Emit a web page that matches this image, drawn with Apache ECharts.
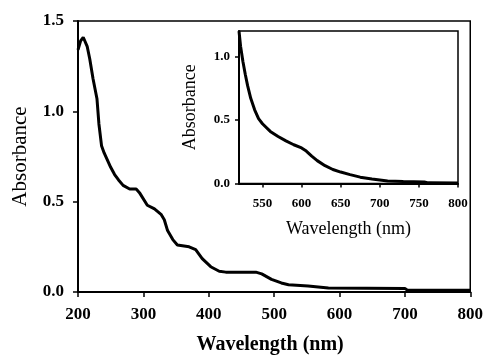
<!DOCTYPE html>
<html>
<head>
<meta charset="utf-8">
<script src="https://cdn.jsdelivr.net/npm/echarts@6/dist/echarts.min.js"></script>
<style>
html,body{margin:0;padding:0;background:#fff;}
#chart{width:486px;height:360px;}
</style>
</head>
<body>
<div id="chart"></div>
<script>
// Main spectrum
var mainWavelength = [200, 204, 208, 214, 218, 223, 229, 232, 236, 240, 245, 250, 256, 262, 269, 279, 289, 294, 306, 317, 327, 332, 337, 345, 352, 370, 380, 390, 403, 416, 426, 472, 481, 496, 511, 522, 552, 583, 700, 704, 800];
var mainAbs = [1.34, 1.39, 1.41, 1.36, 1.29, 1.18, 1.07, 0.93, 0.81, 0.77, 0.73, 0.69, 0.65, 0.62, 0.59, 0.57, 0.57, 0.55, 0.48, 0.46, 0.43, 0.40, 0.34, 0.29, 0.26, 0.25, 0.235, 0.185, 0.14, 0.115, 0.11, 0.11, 0.10, 0.07, 0.05, 0.04, 0.033, 0.022, 0.02, 0.01, 0.01];
// Inset spectrum
var insetWavelength = [520, 522, 525, 528, 531, 535, 540, 545, 550, 560, 570, 580, 590, 600, 606, 613, 620, 630, 640, 650, 662, 675, 690, 710, 730, 757, 762, 800];
var insetAbs = [1.20, 1.08, 0.96, 0.86, 0.77, 0.67, 0.58, 0.51, 0.47, 0.41, 0.37, 0.335, 0.305, 0.28, 0.255, 0.215, 0.18, 0.14, 0.11, 0.09, 0.07, 0.05, 0.035, 0.02, 0.015, 0.012, 0.005, 0.003];
// Ticks
var mainXTicks = [200, 300, 400, 500, 600, 700, 800];
var mainYTicks = [0, 0.5, 1.0, 1.5];
var insetXTicks = [550, 600, 650, 700, 750, 800];
var insetYTicks = [0, 0.5, 1.0];
var xTitle = 'Wavelength (nm)';
var yTitle = 'Absorbance';

function pairs(xs, ys) { return xs.map(function (x, i) { return [x, ys[i]]; }); }

var FONT = 'Liberation Serif';
var chart = echarts.init(document.getElementById('chart'), null, { renderer: 'canvas' });
var axisLineStyle = { color: '#000', width: 2 };

chart.setOption({
  animation: false,
  backgroundColor: '#fff',
  grid: [
    { left: 78, top: 21, width: 395, height: 275, show: true, borderColor: '#000', borderWidth: 1.5, backgroundColor: 'transparent' },
    { left: 239, top: 31, width: 219, height: 152.5, show: true, borderColor: '#000', borderWidth: 1.5, backgroundColor: '#fff' }
  ],
  xAxis: [
    {
      gridIndex: 0, type: 'value', min: 200, max: 800,
      axisLine: { show: true, lineStyle: axisLineStyle },
      axisTick: { show: true, inside: false, length: 5, customValues: mainXTicks, lineStyle: { color: '#000', width: 1.5 } },
      axisLabel: { customValues: mainXTicks, margin: 14, fontFamily: FONT, fontWeight: 'bold', fontSize: 17, color: '#000' },
      splitLine: { show: false },
      name: xTitle, nameLocation: 'middle', nameGap: 43,
      nameTextStyle: { fontFamily: FONT, fontWeight: 'bold', fontSize: 20, color: '#000', padding: [0, 8, 0, 0] }
    },
    {
      gridIndex: 1, type: 'value', min: 520, max: 800,
      axisLine: { show: true, lineStyle: axisLineStyle },
      axisTick: { show: true, inside: false, length: 4, customValues: insetXTicks, lineStyle: { color: '#000', width: 1.5 } },
      axisLabel: { customValues: insetXTicks, margin: 14, fontFamily: FONT, fontWeight: 'bold', fontSize: 13, color: '#000' },
      splitLine: { show: false },
      name: xTitle, nameLocation: 'middle', nameGap: 37,
      nameTextStyle: { fontFamily: FONT, fontSize: 18, color: '#000' }
    }
  ],
  yAxis: [
    {
      gridIndex: 0, type: 'value', min: 0, max: 1.5, interval: 0.5,
      axisLine: { show: true, lineStyle: axisLineStyle },
      axisTick: { show: true, inside: false, length: 5, customValues: mainYTicks, lineStyle: { color: '#000', width: 1.5 } },
      axisLabel: { customValues: mainYTicks, margin: 14, fontFamily: FONT, fontWeight: 'bold', fontSize: 17, color: '#000',
        formatter: function (v) { return v.toFixed(1); } },
      splitLine: { show: false },
      name: yTitle, nameLocation: 'middle', nameGap: 47, nameRotate: 90,
      nameTextStyle: { fontFamily: FONT, fontSize: 21, color: '#000' }
    },
    {
      gridIndex: 1, type: 'value', min: 0, max: 1.2,
      axisLine: { show: true, lineStyle: axisLineStyle },
      axisTick: { show: true, inside: false, length: 4, customValues: insetYTicks, lineStyle: { color: '#000', width: 1.5 } },
      axisLabel: { customValues: insetYTicks, margin: 9, fontFamily: FONT, fontWeight: 'bold', fontSize: 13, color: '#000',
        formatter: function (v) { return v.toFixed(1); } },
      splitLine: { show: false },
      name: yTitle, nameLocation: 'middle', nameGap: 40, nameRotate: 90,
      nameTextStyle: { fontFamily: FONT, fontSize: 18, color: '#000' }
    }
  ],
  series: [
    {
      type: 'line', xAxisIndex: 0, yAxisIndex: 0, data: pairs(mainWavelength, mainAbs),
      showSymbol: false, symbol: 'none', smooth: false,
      lineStyle: { color: '#000', width: 3 }
    },
    {
      type: 'line', xAxisIndex: 1, yAxisIndex: 1, data: pairs(insetWavelength, insetAbs),
      showSymbol: false, symbol: 'none', smooth: false, z: 5,
      lineStyle: { color: '#000', width: 3 }
    }
  ]
});
</script>
</body>
</html>
